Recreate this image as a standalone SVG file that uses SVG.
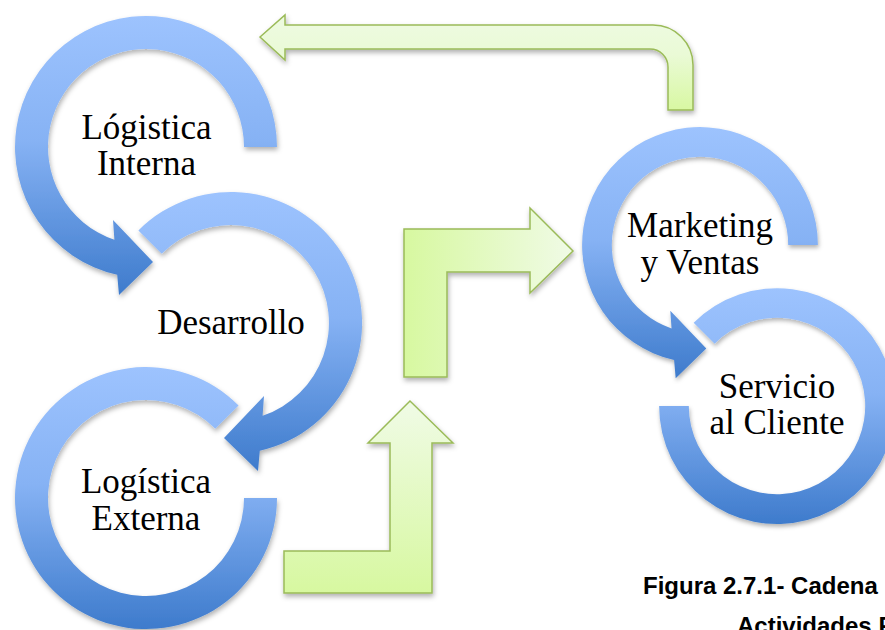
<svg xmlns="http://www.w3.org/2000/svg" width="885" height="630" viewBox="0 0 885 630">
<style>
.lbl{font-family:"Liberation Serif","Times New Roman",serif;font-size:35px;fill:#000;text-anchor:middle}
.ring{fill:url(#blue);filter:url(#sh)}
.green{stroke:#9BBB59;stroke-width:1.5;filter:url(#sh)}
.cap{font-family:"Liberation Sans",Arial,sans-serif;font-size:24px;font-weight:bold;fill:#000}
</style>
<defs>
<linearGradient id="blue" x1="0" y1="0" x2="0" y2="1">
<stop offset="0" stop-color="#9DC3FE"/>
<stop offset="0.45" stop-color="#86B2F4"/>
<stop offset="1" stop-color="#3E7BCC"/>
</linearGradient>
<linearGradient id="gTop" gradientUnits="userSpaceOnUse" x1="0" y1="25" x2="0" y2="110">
<stop offset="0" stop-color="#EDFADF"/>
<stop offset="0.35" stop-color="#EAFAD6"/>
<stop offset="1" stop-color="#D8F8A2"/>
</linearGradient>
<linearGradient id="gMid" gradientUnits="userSpaceOnUse" x1="404" y1="0" x2="573" y2="0">
<stop offset="0" stop-color="#D7F8A0"/>
<stop offset="1" stop-color="#F0FBE6"/>
</linearGradient>
<linearGradient id="gBot" gradientUnits="userSpaceOnUse" x1="0" y1="401" x2="0" y2="593">
<stop offset="0" stop-color="#F0FBE6"/>
<stop offset="1" stop-color="#D7F8A0"/>
</linearGradient>
<filter id="sh" x="-10%" y="-10%" width="125%" height="125%">
<feDropShadow dx="1" dy="3" stdDeviation="2.5" flood-color="#000" flood-opacity="0.3"/>
</filter>
<path id="arrowCCW" d="M131,0 A131,131 0 1 0 -28.8,127.8 L-27,148 L7,115 L-33,73 L-31.6,92.8 A98,98 0 1 1 98,0 Z"/>
<path id="arrowCW" d="M-92.6,-92.6 A131,131 0 1 1 28.8,127.8 L27,148 L-7,115 L33,73 L31.6,92.8 A98,98 0 1 0 -69.3,-69.3 Z"/>
</defs>
<rect width="885" height="630" fill="#fff"/>

<g id="connectors">
<path class="green" fill="url(#gTop)" d="M260,37 L285,15 L285,25 L653,25 A40,40 0 0 1 693,65 L693,110 L668,110 L668,67 A18,18 0 0 0 650,49 L285,49 L285,60 Z"/>
<path class="green" fill="url(#gMid)" d="M404,377 L404,229 L530,229 L530,208 L573,251 L530,293 L530,272 L447,272 L447,377 Z"/>
<path class="green" fill="url(#gBot)" d="M284,551 L390,551 L390,443 L368,443 L410,401 L453,443 L432,443 L432,593 L284,593 Z"/>
</g>

<g id="logistica-externa">
<path class="ring" transform="translate(146,498)" d="M131,0 A131,131 0 1 1 92.6,-92.6 L69.3,-69.3 A98,98 0 1 0 98,0 Z"/>
<text class="lbl" x="146" y="493">Logística</text>
<text class="lbl" x="146" y="530">Externa</text>
</g>

<g id="desarrollo">
<use class="ring" href="#arrowCW" transform="translate(231,323)"/>
<text class="lbl" x="231" y="334">Desarrollo</text>
</g>

<g id="logistica-interna">
<use class="ring" href="#arrowCCW" transform="translate(146,147)"/>
<text class="lbl" x="146.5" y="139">Lógistica</text>
<text class="lbl" x="146.5" y="175">Interna</text>
</g>

<g id="servicio-cliente">
<path class="ring" transform="translate(777,406) scale(0.9)" d="M-92.6,-92.6 A131,131 0 1 1 -131,0 L-98,0 A98,98 0 1 0 -69.3,-69.3 Z"/>
<text class="lbl" x="777" y="398">Servicio</text>
<text class="lbl" x="777" y="434">al Cliente</text>
</g>

<g id="marketing-ventas">
<use class="ring" href="#arrowCCW" transform="translate(700,245) scale(0.9)"/>
<text class="lbl" x="700" y="237">Marketing</text>
<text class="lbl" x="700" y="274">y Ventas</text>
</g>

<g id="caption">
<text class="cap" x="643" y="594">Figura 2.7.1- Cadena</text>
<text class="cap" x="737" y="634">Actividades P</text>
</g>
</svg>
